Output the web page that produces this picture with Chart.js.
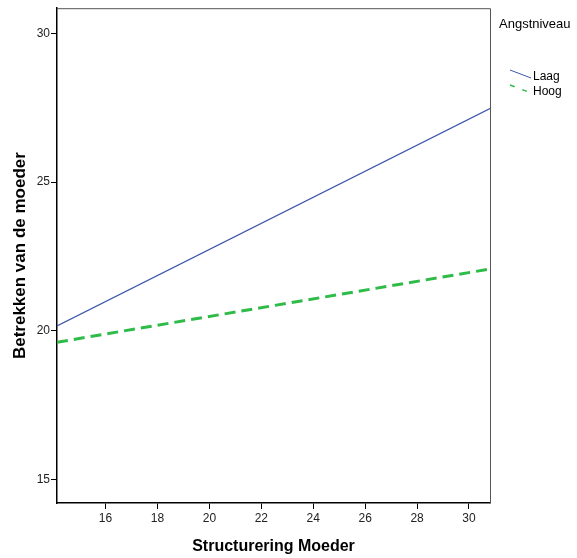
<!DOCTYPE html>
<html lang="en">
<head>
    <meta charset="UTF-8">
    <title>Betrekken van de moeder</title>
    <script src="https://cdn.jsdelivr.net/npm/chart.js"></script>
    <style>
        html, body { margin: 0; padding: 0; background: #fff; }
        #wrap { width: 577px; height: 558px; }
    </style>
</head>
<body>
    <div id="wrap"><canvas id="chart"></canvas></div>

    <script>
        // fit lines (x = Structurering Moeder)
        const xRange = [14.13, 30.81];
        const laag = [20.17, 27.47];
        const hoog = [19.62, 22.08];
        const xTicks = [16, 18, 20, 22, 24, 26, 28, 30];
        const yTicks = [15, 20, 25, 30];
        const yRange = [14.22, 30.84];

        const toPoints = ys => xRange.map((x, i) => ({ x: x, y: ys[i] }));

        // draws the grey frame round the plot and the SPSS style legend on the right
        const framePlugin = {
            id: 'frame',
            beforeDatasetsDraw(chart) {
                const { ctx, chartArea: a } = chart;
                ctx.save();
                ctx.strokeStyle = '#555';
                ctx.lineWidth = 1;
                ctx.beginPath();
                ctx.moveTo(a.left, a.top + 0.5);
                ctx.lineTo(a.right + 0.5, a.top + 0.5);
                ctx.lineTo(a.right + 0.5, a.bottom);
                ctx.stroke();
                ctx.restore();
            },
            afterDraw(chart) {
                const ctx = chart.ctx;
                ctx.save();
                ctx.fillStyle = '#000';
                ctx.textBaseline = 'middle';
                ctx.font = '13px "Liberation Sans", Arial, sans-serif';
                ctx.fillText('Angstniveau', 499, 24);
                ctx.font = '12px "Liberation Sans", Arial, sans-serif';
                chart.data.datasets.forEach((ds, i) => {
                    const y = 74 + i * 15;
                    ctx.strokeStyle = ds.borderColor;
                    ctx.lineWidth = ds.borderWidth > 2 ? 1.5 : 1;
                    ctx.setLineDash(ds.borderDash ? [5, 8] : []);
                    ctx.beginPath();
                    ctx.moveTo(510, y - 4);
                    ctx.lineTo(531, y + 4);
                    ctx.stroke();
                    ctx.setLineDash([]);
                    ctx.fillText(ds.label, 533, y + 3);
                });
                ctx.restore();
            }
        };

        const tickFont = { family: '"Liberation Sans", Arial, sans-serif', size: 12 };
        const titleFont = { family: '"Liberation Sans", Arial, sans-serif', size: 16, weight: 'bold' };

        new Chart(document.getElementById('chart'), {
            type: 'scatter',
            data: {
                datasets: [{
                    label: 'Laag',
                    data: toPoints(laag),
                    showLine: true,
                    borderColor: '#3d56ab',
                    borderWidth: 1.3,
                    pointRadius: 0
                }, {
                    label: 'Hoog',
                    data: toPoints(hoog),
                    showLine: true,
                    borderColor: '#2fbb48',
                    borderWidth: 3,
                    borderDash: [11, 6],
                    pointRadius: 0
                }]
            },
            options: {
                responsive: true,
                maintainAspectRatio: false,
                animation: false,
                layout: { padding: { top: 6, right: 87, left: 0, bottom: 0 } },
                plugins: {
                    legend: { display: false },
                    tooltip: { enabled: false }
                },
                scales: {
                    x: {
                        type: 'linear',
                        min: xRange[0],
                        max: xRange[1],
                        afterBuildTicks: s => { s.ticks = xTicks.map(v => ({ value: v })); },
                        afterFit: s => { s.height = 55; },
                        grid: { drawOnChartArea: false, color: '#000', tickLength: 6 },
                        border: { color: '#000', width: 1.5 },
                        ticks: { color: '#222', font: tickFont, padding: 2, maxRotation: 0 },
                        title: {
                            display: true,
                            text: 'Structurering Moeder',
                            color: '#000',
                            font: titleFont,
                            padding: { top: 0, bottom: 2 }
                        }
                    },
                    y: {
                        min: yRange[0],
                        max: yRange[1],
                        afterBuildTicks: s => { s.ticks = yTicks.map(v => ({ value: v })); },
                        afterFit: s => { s.width = 57; },
                        grid: { drawOnChartArea: false, color: '#000', tickLength: 6 },
                        border: { color: '#000', width: 1.5 },
                        ticks: { color: '#222', font: tickFont, padding: 1 },
                        title: {
                            display: true,
                            text: 'Betrekken van de moeder',
                            color: '#000',
                            font: Object.assign({}, titleFont, { size: 17 }),
                            padding: { top: 10, bottom: 0 }
                        }
                    }
                }
            },
            plugins: [framePlugin]
        });
    </script>
</body>
</html>
